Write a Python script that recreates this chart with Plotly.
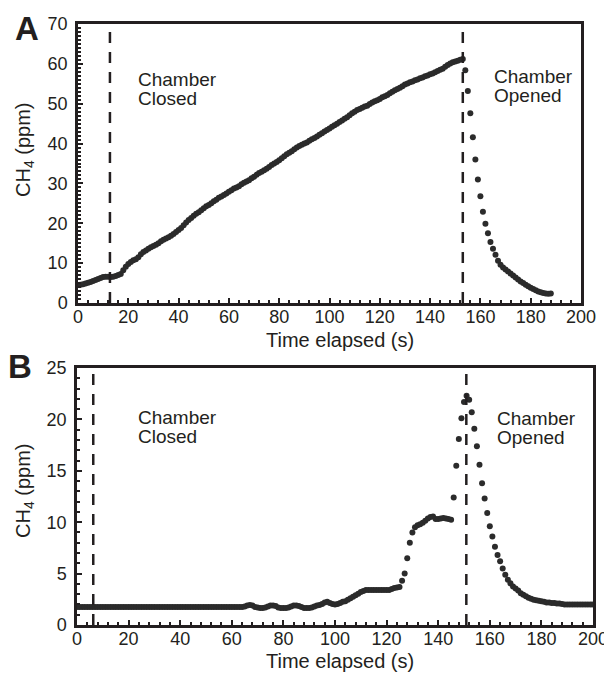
import numpy as np
import plotly.graph_objects as go

# Panel A: CH4 (ppm), sampled every second from t = 0 to 188 s
time_a = list(range(0, 189))
ch4_a = [
    4.5, 4.6, 4.7, 4.9, 5.1, 5.3, 5.5, 5.8, 6.0, 6.3,
    6.5, 6.6, 6.6, 6.5, 6.6, 6.8, 7.0, 7.3, 8.2, 9.1,
    9.8, 10.3, 10.7, 11.0, 11.5, 12.2, 12.8, 13.2, 13.6, 14.0,
    14.3, 14.6, 15.0, 15.5, 15.9, 16.2, 16.5, 16.9, 17.3, 17.8,
    18.3, 18.8, 19.5, 20.2, 20.8, 21.3, 21.9, 22.4, 22.8, 23.3,
    23.8, 24.3, 24.6, 25.0, 25.5, 25.9, 26.4, 26.7, 27.1, 27.5,
    27.9, 28.3, 28.7, 29.0, 29.3, 29.8, 30.2, 30.5, 30.8, 31.3,
    31.7, 32.2, 32.6, 32.9, 33.3, 33.7, 34.1, 34.6, 35.0, 35.4,
    35.8, 36.3, 36.8, 37.3, 37.7, 38.1, 38.6, 39.0, 39.4, 39.7,
    40.0, 40.3, 40.7, 41.1, 41.4, 41.8, 42.2, 42.6, 43.0, 43.4,
    43.8, 44.2, 44.6, 45.0, 45.4, 45.8, 46.2, 46.6, 47.1, 47.6,
    48.0, 48.4, 48.7, 49.0, 49.3, 49.5, 49.9, 50.3, 50.6, 50.9,
    51.2, 51.6, 51.9, 52.2, 52.6, 53.0, 53.4, 53.7, 54.0, 54.4,
    54.8, 55.1, 55.4, 55.6, 55.9, 56.1, 56.4, 56.6, 56.9, 57.1,
    57.4, 57.6, 57.9, 58.2, 58.5, 58.8, 59.3, 59.7, 60.1, 60.4,
    60.6, 60.8, 61.0, 61.2, 58.4, 53.2, 47.6, 41.6, 36.0, 31.0,
    26.8, 22.9, 19.9, 17.5, 15.3, 13.6, 12.1, 10.6, 9.6, 8.9,
    8.4, 7.9, 7.4, 6.9, 6.4, 5.9, 5.4, 5.0, 4.6, 4.2,
    3.8, 3.5, 3.2, 2.9, 2.7, 2.5, 2.4, 2.3, 2.4,
]

# Panel B: CH4 (ppm), sampled every second from t = 0 to 200 s
time_b = list(range(0, 201))
ch4_b = [
    1.75, 1.75, 1.75, 1.75, 1.75, 1.75, 1.75, 1.75, 1.75, 1.75,
    1.75, 1.75, 1.75, 1.75, 1.75, 1.75, 1.75, 1.75, 1.75, 1.75,
    1.75, 1.75, 1.75, 1.75, 1.75, 1.75, 1.75, 1.75, 1.75, 1.75,
    1.75, 1.75, 1.75, 1.75, 1.75, 1.75, 1.75, 1.75, 1.75, 1.75,
    1.75, 1.75, 1.75, 1.75, 1.75, 1.75, 1.75, 1.75, 1.75, 1.75,
    1.75, 1.75, 1.75, 1.75, 1.75, 1.75, 1.75, 1.75, 1.75, 1.75,
    1.75, 1.75, 1.75, 1.75, 1.75, 1.8, 1.9, 1.95, 1.9, 1.75,
    1.7, 1.65, 1.65, 1.7, 1.8, 1.9, 1.9, 1.85, 1.7, 1.65,
    1.65, 1.65, 1.7, 1.8, 1.9, 1.9, 1.85, 1.75, 1.65, 1.65,
    1.65, 1.7, 1.8, 1.9, 1.95, 2.05, 2.2, 2.25, 2.15, 2.05,
    2.0, 2.05, 2.15, 2.25, 2.3, 2.45, 2.6, 2.75, 2.9, 3.05,
    3.2, 3.3, 3.4, 3.4, 3.4, 3.4, 3.4, 3.4, 3.4, 3.4,
    3.4, 3.4, 3.5, 3.6, 3.65, 3.7, 4.3, 5.0, 6.5, 8.0,
    9.0, 9.5, 9.7, 9.8, 9.95, 10.15, 10.35, 10.5, 10.55, 10.3,
    10.3, 10.35, 10.4, 10.35, 10.3, 10.25, 12.4, 15.5, 18.1, 20.1,
    21.7, 22.3, 21.9, 20.7, 19.1, 17.4, 15.6, 13.8, 12.3, 10.9,
    9.6, 8.6, 7.6, 6.8, 6.2, 5.5, 4.9, 4.4, 4.05, 3.75,
    3.55, 3.35, 3.1, 2.95, 2.8, 2.65, 2.55, 2.45, 2.4, 2.35,
    2.3, 2.25, 2.2, 2.2, 2.15, 2.15, 2.1, 2.1, 2.05, 2.0,
    2.0, 2.0, 2.0, 2.0, 2.0, 2.0, 2.0, 2.0, 2.0, 2.0,
    2.0,
]

closed_a, opened_a = 12.7, 153.0
closed_b, opened_b = 6.3, 150.9

x_ticks = [0, 20, 40, 60, 80, 100, 120, 140, 160, 180, 200]
y_ticks_a = [0, 10, 20, 30, 40, 50, 60, 70]
y_ticks_b = [0, 5, 10, 15, 20, 25]

INK = "#231f20"
FONT = "Liberation Sans, Arial, Helvetica, sans-serif"
OFF = 8  # page body margin
W, H = 612 - OFF, 673 - OFF

def xp(px):
    return (px - OFF) / W

def yp(py):
    return 1 - (py - OFF) / H

fig = go.Figure()
fig.add_trace(go.Scatter(x=time_a, y=ch4_a, mode="markers",
                         marker=dict(size=6, color="#2b2b2b"),
                         xaxis="x", yaxis="y", showlegend=False))
fig.add_trace(go.Scatter(x=time_b, y=ch4_b, mode="markers",
                         marker=dict(size=6, color="#2b2b2b"),
                         xaxis="x2", yaxis="y2", showlegend=False))

def xax(domain, anchor, minor_dtick):
    return dict(domain=domain, anchor=anchor, range=[0, 200], tickvals=x_ticks,
                automargin=False, ticklabelstandoff=-4,
                ticks="inside", ticklen=5, tickwidth=2, tickcolor=INK,
                minor=dict(dtick=minor_dtick, ticks="inside", ticklen=3, tickwidth=2, tickcolor=INK),
                showline=True, linewidth=2.5, linecolor=INK, mirror=True,
                showgrid=False, zeroline=False,
                tickfont=dict(size=18, color=INK, family=FONT))

def yax(domain, anchor, rng, vals, minor_dtick):
    return dict(domain=domain, anchor=anchor, range=rng, tickvals=vals,
                automargin=False, ticklabelstandoff=4,
                ticks="inside", ticklen=5, tickwidth=2, tickcolor=INK,
                minor=dict(dtick=minor_dtick, ticks="inside", ticklen=3, tickwidth=2, tickcolor=INK),
                showline=True, linewidth=2.5, linecolor=INK, mirror=True,
                showgrid=False, zeroline=False,
                tickfont=dict(size=18, color=INK, family=FONT))

fig.update_layout(
    width=W, height=H,
    margin=dict(l=0, r=0, t=0, b=0),
    paper_bgcolor="white", plot_bgcolor="white",
    font=dict(family=FONT, color=INK),
    xaxis=xax([xp(78), xp(581)], "y", 4),
    yaxis=yax([yp(303), yp(24)], "x", [0, 70], y_ticks_a, 1),
    xaxis2=xax([xp(77), xp(593)], "y2", 4),
    yaxis2=yax([yp(625), yp(368)], "x2", [0, 25], y_ticks_b, 1),
)

dash = dict(color=INK, width=2.5, dash="11px,9px")
for xv, xr, yr in [(closed_a, "x", "y"), (opened_a, "x", "y"),
                   (closed_b, "x2", "y2"), (opened_b, "x2", "y2")]:
    fig.add_shape(type="line", x0=xv, x1=xv, y0=0, y1=1, xref=xr,
                  yref=f"{yr} domain", line=dash)

def note(text, xpx, ypx, size=19, xanchor="left", angle=0):
    fig.add_annotation(text=text, x=xp(xpx), y=yp(ypx), xref="paper", yref="paper",
                       xanchor=xanchor, yanchor="middle", align="left", showarrow=False,
                       textangle=angle, font=dict(size=size, color=INK, family=FONT))

note("Chamber", 136, 80)
note("Closed", 136, 98)
note("Chamber", 492, 76)
note("Opened", 492, 95)
note("Chamber", 136, 417)
note("Closed", 136, 436)
note("Chamber", 495, 418)
note("Opened", 495, 437)

# axis titles
note("Time elapsed (s)", 340, 340, size=20, xanchor="center")
note("Time elapsed (s)", 340, 661, size=20, xanchor="center")
note("CH<sub>4</sub> (ppm)", 25, 150, size=20, xanchor="center", angle=-90)
note("CH<sub>4</sub> (ppm)", 24, 491, size=20, xanchor="center", angle=-90)

for lbl, xpx, ypx in [("A", 13, 28), ("B", 6, 366)]:
    fig.add_annotation(text="<b>%s</b>" % lbl, x=xp(xpx), y=yp(ypx), xref="paper", yref="paper",
                       xanchor="left", yanchor="middle", showarrow=False,
                       font=dict(size=33, color=INK, family=FONT))

fig.write_html("out.html")
